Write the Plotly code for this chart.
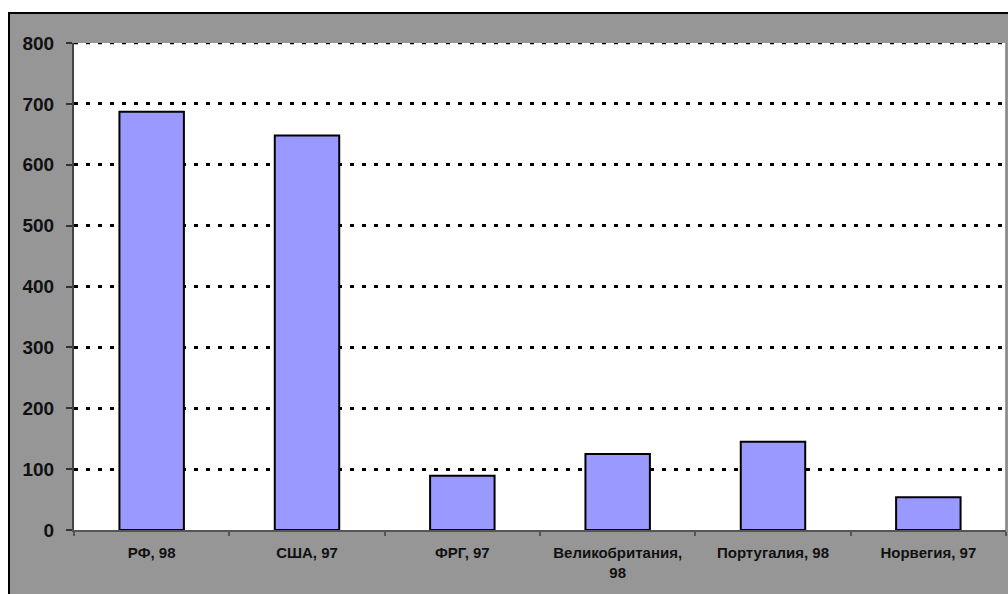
import plotly.graph_objects as go

# Countries with survey year and the plotted values
categories = ["РФ, 98", "США, 97", "ФРГ, 97", "Великобритания,<br>98", "Португалия, 98", "Норвегия, 97"]
values = [687, 648, 89, 125, 145, 54]
y_ticks = [0, 100, 200, 300, 400, 500, 600, 700, 800]

W, H = 1008, 594
L, R, T, B = 74, 2, 43, 64
pw, ph = W - L - R, H - T - B

def px_x(x):
    return (x - L) / pw

def px_y(y):
    return 1 - (y - T) / ph

font_family = "Arial, Liberation Sans, sans-serif"
grid_style = dict(color="#000000", width=2.5, dash="4px,8px")

fig = go.Figure(
    go.Bar(
        x=categories,
        y=values,
        marker=dict(color="#9999FF", line=dict(color="#000000", width=2)),
        width=0.415,
    )
)

fig.update_layout(
    width=W,
    height=H,
    margin=dict(l=L, r=R, t=T, b=B, pad=0),
    paper_bgcolor="white",
    plot_bgcolor="rgba(0,0,0,0)",
    showlegend=False,
    font=dict(family=font_family, color="black"),
    shapes=[
        # grey chart area with black frame
        dict(type="rect", xref="paper", yref="paper", layer="below",
             x0=px_x(9), x1=px_x(1020), y0=px_y(610), y1=px_y(13),
             fillcolor="#969696", line=dict(color="black", width=2)),
        # white plotting area
        dict(type="rect", xref="paper", yref="paper", layer="below",
             x0=0, x1=1, y0=0, y1=1,
             fillcolor="white", line=dict(width=0)),
        # top gridline at the upper range limit
        dict(type="line", xref="paper", yref="y", layer="below",
             x0=0, x1=1, y0=y_ticks[-1], y1=y_ticks[-1],
             line=grid_style),
        # right edge of plotting area
        dict(type="line", xref="paper", yref="paper", layer="above",
             x0=1, x1=1, y0=0, y1=1,
             line=dict(color="#808080", width=1.5)),
    ],
)

fig.update_xaxes(
    type="category",
    tickson="boundaries",
    ticks="outside",
    ticklen=4,
    tickwidth=1.5,
    tickcolor="#555555",
    showline=True,
    linecolor="#555555",
    linewidth=2,
    showgrid=False,
    tickfont=dict(family=font_family, size=15, color="#111111", weight="bold"),
    ticklabelstandoff=8,
    fixedrange=True,
)

fig.update_yaxes(
    range=[0, 800],
    tickvals=y_ticks,
    ticktext=[str(v) for v in y_ticks],
    ticks="outside",
    ticklen=6,
    tickwidth=1.5,
    tickcolor="#333333",
    showline=True,
    linecolor="#444444",
    linewidth=2,
    showgrid=True,
    gridcolor=grid_style["color"],
    gridwidth=grid_style["width"],
    griddash=grid_style["dash"],
    zeroline=False,
    tickfont=dict(family=font_family, size=19, color="#111111", weight="bold"),
    ticklabelstandoff=8,
    fixedrange=True,
)

fig.write_html("out.html")
